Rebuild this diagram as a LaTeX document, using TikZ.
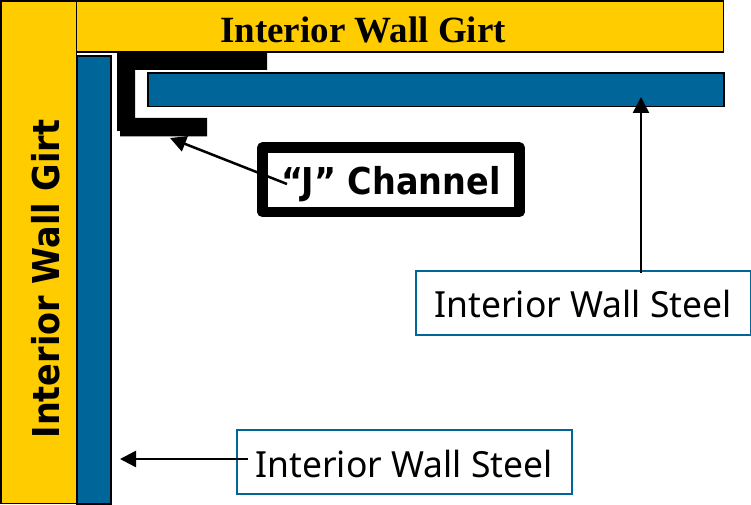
\documentclass[tikz,border=0pt]{standalone}
\usepackage{fontspec}
\setmainfont{Noto Sans}
\newfontfamily\serifbold{Liberation Serif}[BoldFont={Liberation Serif Bold}]
\newfontfamily\heavyfont{DejaVu Sans Bold}[FakeStretch=0.905]
\usetikzlibrary{arrows.meta}
\definecolor{girt}{HTML}{FFCC00}
\definecolor{steel}{HTML}{006699}
\tikzset{
  x=1bp,y=-1bp,
  girtbox/.style={draw=black,line width=1.5bp,fill=girt,inner sep=0pt},
  steelbox/.style={draw=black,line width=1.5bp,fill=steel},
  labelbox/.style={draw=steel,line width=1.5bp,fill=white},
  labeltext/.style={font=\fontsize{36bp}{40bp}\selectfont,inner sep=0pt,text=black,xscale=0.985},
  girttext/.style={font=\fontsize{37bp}{40bp}\selectfont\heavyfont,inner sep=0pt,text=black},
  pointer/.style={draw=black,line width=2.5bp,-{Triangle[length=16bp,width=16bp]},shorten >=0pt}
}
\begin{document}
\begin{tikzpicture}
\useasboundingbox (0,0) rectangle (751,505);
\fill[white] (0,0) rectangle (751,505);
\draw[girtbox] (1,1) rectangle (76.5,503.5);
\draw[girtbox] (76.5,1) rectangle (723.5,52);
\draw[steelbox] (77,56) rectangle (111,504);
\draw[steelbox] (148,73) rectangle (724,106.5);
\fill[black] (117,52) -- (267,52) -- (267,70) -- (135,70) -- (135,118) -- (207,118) -- (207,136.5) -- (120,136.5) -- (120,131) -- (117,131) -- cycle;
\node[font=\fontsize{37bp}{40bp}\selectfont\serifbold\bfseries,inner sep=0pt,anchor=center] (topgirt) at (363,30) {Interior Wall Girt};
\node[girttext,rotate=90,anchor=center] (leftgirt) at (45.5,279) {Interior Wall Girt};
\draw[labelbox] (416,271) rectangle (751,335);
\draw[labelbox] (237,430) rectangle (572,494);
\node[labeltext] (steelone) at (583,304) {Interior Wall Steel};
\node[labeltext] (steeltwo) at (404,464) {Interior Wall Steel};
\coordinate (steelonefrom) at (641,273);
\coordinate (steelhead) at (641,97);
\coordinate (steeltwofrom) at (248,459);
\coordinate (steeltwohead) at (120,459);
\coordinate (jfrom) at (287,184);
\coordinate (jhead) at (170,138);
\draw[line width=10.5bp,draw=black,line join=round,fill=white] (262.5,147.5) rectangle (519.5,212);
\node[girttext] (jchannel) at (391,184) {“J” Channel};
\draw[pointer] (steelonefrom) -- (steelhead);
\draw[pointer] (steeltwofrom) -- (steeltwohead);
\draw[pointer] (jfrom) -- (jhead);
\end{tikzpicture}
\end{document}
